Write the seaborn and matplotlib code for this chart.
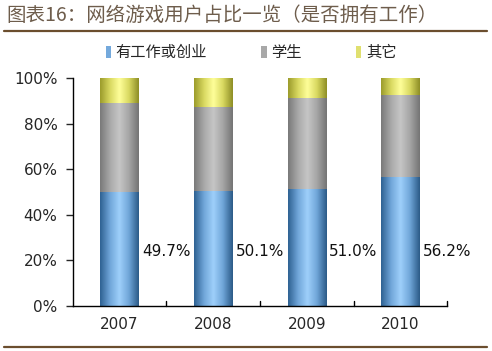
import numpy as np
import pandas as pd
import seaborn as sns
import matplotlib.pyplot as plt
from matplotlib.colors import LinearSegmentedColormap
from matplotlib.patches import Patch
from matplotlib.lines import Line2D

years = ["2007", "2008", "2009", "2010"]
working = [49.7, 50.1, 51.0, 56.2]
student = [38.9, 36.7, 39.8, 35.9]
other = [11.4, 13.2, 9.2, 7.9]
series_names = ["有工作或创业", "学生", "其它"]
value_labels = ["49.7%", "50.1%", "51.0%", "56.2%"]

df = pd.DataFrame({"year": years, "working": working, "student": student, "other": other})
df["top2"] = df["working"] + df["student"]
df["top3"] = df["top2"] + df["other"]

sns.set_style("white")
plt.rcParams["font.family"] = ["Noto Sans CJK SC", "DejaVu Sans"]

# cylinder-style shading: dark edge -> light middle -> dark edge
shades = {
    "blue": ["#2f6293", "#6fa5d8", "#9fd0fb", "#6fa5d8", "#2c5b88"],
    "gray": ["#7a7a7a", "#a8a8a8", "#c6c6c6", "#a5a5a5", "#757575"],
    "yellow": ["#9c9c2c", "#d8d860", "#ffff9a", "#d8d860", "#8f8f26"],
}
flat = {"blue": "#74a9dc", "gray": "#a8a8a8", "yellow": "#e0e070"}

fig = plt.figure(figsize=(4.92, 3.51), dpi=100)
ax = fig.add_axes([0.148, 0.128, 0.761, 0.650])

layers = [("top3", "yellow"), ("top2", "gray"), ("working", "blue")]
for col, key in layers:
    sns.barplot(data=df, x="year", y=col, color=flat[key], width=0.41,
                saturation=1, edgecolor="none", ax=ax, errorbar=None)

grad = np.linspace(0, 1, 64).reshape(1, -1)
n = len(years)
for i, p in enumerate(ax.patches):
    key = layers[i // n][1]
    cmap = LinearSegmentedColormap.from_list(key, shades[key])
    x0, y0 = p.get_x(), p.get_y()
    ax.imshow(grad, cmap=cmap, aspect="auto", interpolation="bicubic",
              extent=(x0, x0 + p.get_width(), y0, y0 + p.get_height()),
              zorder=2 + 0.1 * (i // n + 1))

for i, lab in enumerate(value_labels):
    ax.text(i + 0.24, 24, lab, ha="left", va="center", fontsize=11,
            family="DejaVu Sans", color="#111111", zorder=5)

ax.set_xlim(-0.5, n - 0.5)
ax.set_ylim(0, 100)
ax.set_yticks(np.arange(0, 101, 20))
ax.set_yticklabels([f"{v}%" for v in range(0, 101, 20)], family="DejaVu Sans", fontsize=11)
ax.set_xticks(range(n))
ax.set_xticklabels(years, family="DejaVu Sans", fontsize=11)
ax.set_xlabel("")
ax.set_ylabel("")
for s in ["top", "right"]:
    ax.spines[s].set_visible(False)
for s in ["left", "bottom"]:
    ax.spines[s].set_color("black")
    ax.spines[s].set_linewidth(1.0)
ax.tick_params(axis="y", direction="out", length=5, width=1, left=True, pad=6)
ax.tick_params(axis="x", length=0, pad=8)
# small upward ticks at category boundaries
for b in np.arange(0.5, n, 1.0):
    ax.plot([b, b], [0, 2.2], color="black", lw=1, clip_on=False, zorder=4)

handles = [Patch(facecolor=flat[k], edgecolor="none") for k in ["blue", "gray", "yellow"]]
fig.legend(handles, series_names, loc="center", bbox_to_anchor=(0.51, 0.85), ncol=3,
           frameon=False, fontsize=11, handlelength=0.35, handleheight=0.8,
           handletextpad=0.3, columnspacing=3.55)

fig.text(0.012, 0.955, "图表16：网络游戏用户占比一览（是否拥有工作）", fontsize=14,
         color="#6e5d4c", style="italic", ha="left", va="center")
fig.add_artist(Line2D([0.008, 0.99], [0.912, 0.912], color="#6b4e2e", lw=1.6))
fig.add_artist(Line2D([0.008, 0.99], [0.01, 0.01], color="#6b4e2e", lw=1.6))

fig.savefig("out.png", dpi=100)
